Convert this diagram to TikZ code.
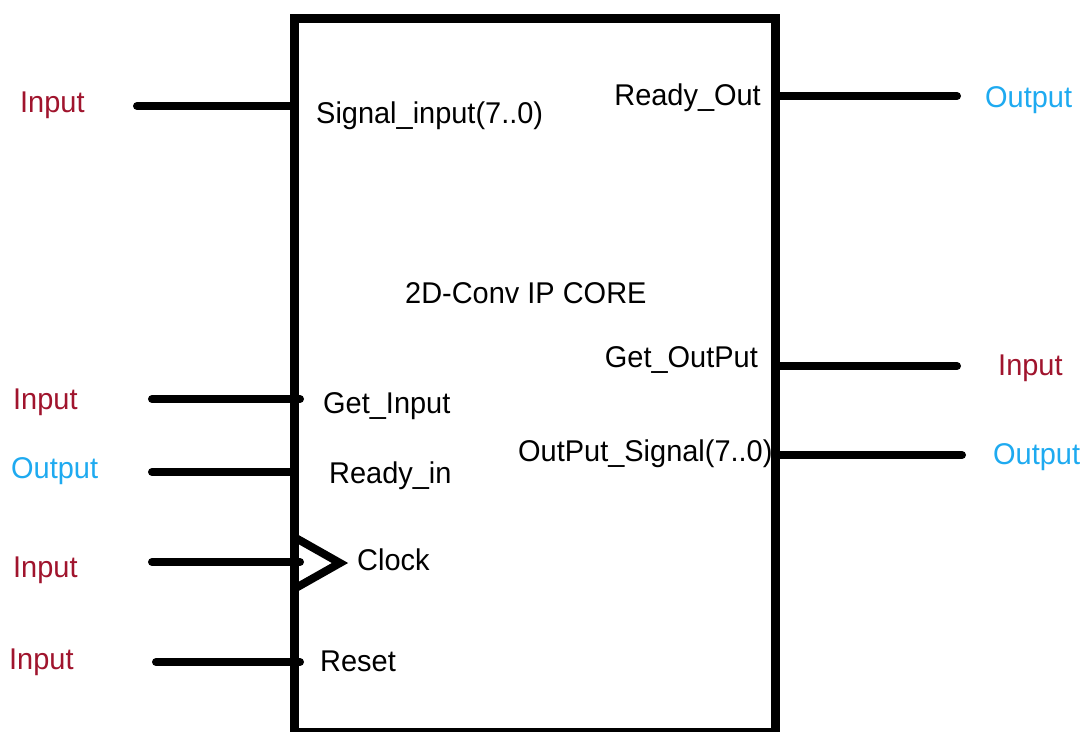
\documentclass[tikz,border=0pt]{standalone}
\usepackage{fontspec}
\setmainfont{Liberation Sans}[FakeStretch=0.965]
\definecolor{inred}{RGB}{160,20,45}
\definecolor{outcyan}{RGB}{30,170,240}
\begin{document}
\begin{tikzpicture}[x=1pt,y=-1pt,
  lbl/.style={inner sep=0pt,font=\fontsize{30}{36}\selectfont},
  inlbl/.style={lbl,text=inred},
  outlbl/.style={lbl,text=outcyan},
  wire/.style={line width=8pt,line cap=round},
  boxline/.style={line width=9pt,line join=miter}]
\useasboundingbox (0,0) rectangle (1081,731);
% main block
\coordinate (bl) at (294,732);
\coordinate (tl) at (294,18);
\coordinate (tr) at (775,18);
\coordinate (br) at (775,732);
\draw[boxline] (bl) -- (tl) -- (tr) -- (br) -- (bl);
% port coordinates on block
\coordinate (pSig) at (294,106);
\coordinate (pGetIn) at (300,399);
\coordinate (pRdyIn) at (294,472);
\coordinate (pClk) at (300,562);
\coordinate (pRst) at (300,662);
\coordinate (pRdyOut) at (775,96);
\coordinate (pGetOut) at (775,366);
\coordinate (pOutSig) at (775,455);
% free ends
\coordinate (eSig) at (137,106);
\coordinate (eGetIn) at (152,399);
\coordinate (eRdyIn) at (152,472);
\coordinate (eClk) at (152,562);
\coordinate (eRst) at (156,662);
\coordinate (eRdyOut) at (957,96);
\coordinate (eGetOut) at (957,366);
\coordinate (eOutSig) at (962,455);
\draw[wire] (eSig) -- (pSig);
\draw[wire] (eGetIn) -- (pGetIn);
\draw[wire] (eRdyIn) -- (pRdyIn);
\draw[wire] (eClk) -- (pClk);
\draw[wire] (eRst) -- (pRst);
\draw[wire] (pRdyOut) -- (eRdyOut);
\draw[wire] (pGetOut) -- (eGetOut);
\draw[wire] (pOutSig) -- (eOutSig);
% clock triangle
\coordinate (ct1) at (294,537);
\coordinate (ct2) at (340,563);
\coordinate (ct3) at (294,589);
\draw[line width=8pt,line join=miter] (ct1) -- (ct2) -- (ct3);
% external labels
\node[inlbl,anchor=base west] (xSig) at (20,112) {Input};
\node[inlbl,anchor=base west] (xGetIn) at (13,409) {Input};
\node[outlbl,anchor=base west] (xRdyIn) at (11,478) {Output};
\node[inlbl,anchor=base west] (xClk) at (13,577) {Input};
\node[inlbl,anchor=base west] (xRst) at (9,669) {Input};
\node[outlbl,anchor=base west] (xRdyOut) at (985,107) {Output};
\node[inlbl,anchor=base west] (xGetOut) at (998,375) {Input};
\node[outlbl,anchor=base west] (xOutSig) at (993,464) {Output};
% internal labels
\node[lbl,anchor=base west] (nSig) at (316,123) {Signal\_input(7..0)};
\node[lbl,anchor=base west] (nGetIn) at (323,413) {Get\_Input};
\node[lbl,anchor=base west] (nRdyIn) at (329,483) {Ready\_in};
\node[lbl,anchor=base west] (nClk) at (357,570) {Clock};
\node[lbl,anchor=base west] (nRst) at (320,671) {Reset};
\node[lbl,anchor=base east] (nRdyOut) at (761,105) {Ready\_Out};
\node[lbl,anchor=base east] (nGetOut) at (758,367) {Get\_OutPut};
\node[lbl,anchor=base west] (nOutSig) at (518,461) {OutPut\_Signal(7..0)};
\node[lbl,anchor=base west] (title) at (405,303) {2D-Conv IP CORE};
\end{tikzpicture}
\end{document}
